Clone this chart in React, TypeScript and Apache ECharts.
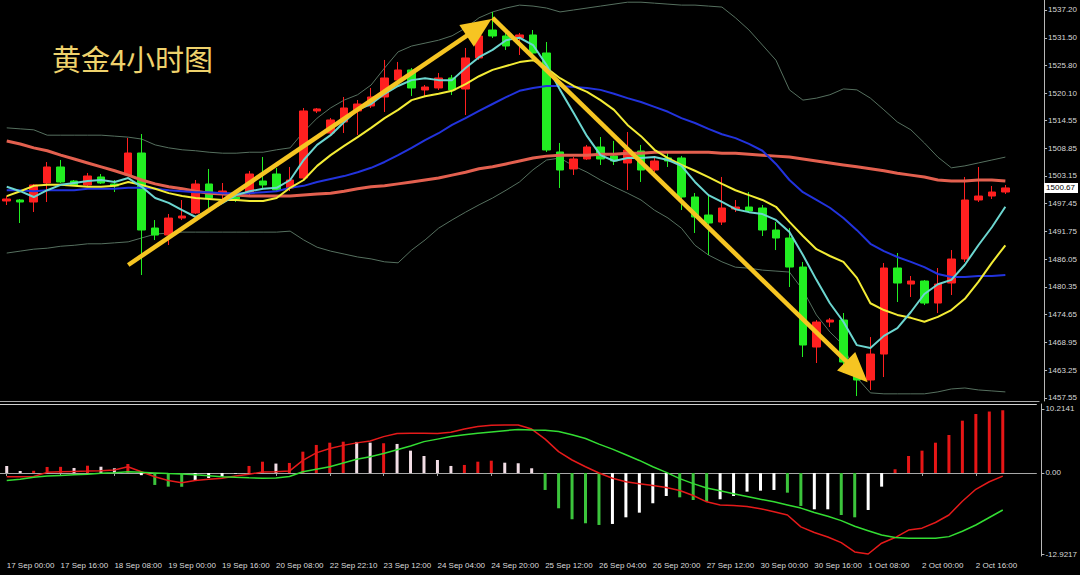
import React, { useEffect, useRef } from 'react';
import * as echarts from 'echarts';

const title = '黄金4小时图';

const timeLabels = ['17 Sep 00:00', '17 Sep 16:00', '18 Sep 08:00', '19 Sep 00:00', '19 Sep 16:00', '20 Sep 08:00', '22 Sep 22:10', '23 Sep 12:00', '24 Sep 04:00', '24 Sep 20:00', '25 Sep 12:00', '26 Sep 04:00', '26 Sep 20:00', '27 Sep 12:00', '30 Sep 00:00', '30 Sep 16:00', '1 Oct 08:00', '2 Oct 00:00', '2 Oct 16:00'];

const priceTicks = [1537.2, 1531.5, 1525.8, 1520.1, 1514.55, 1508.85, 1503.15, 1497.45, 1491.75, 1486.05, 1480.35, 1474.65, 1468.95, 1463.25, 1457.55];
const macdTicks = [10.2141, 0, -12.9217];

const opens = [1497.99, 1498.19, 1497.78, 1501.68, 1504.97, 1502.09, 1501.27, 1502.92, 1501.48, 1503.33,
  1507.84, 1492.44, 1491.00, 1494.49, 1495.52, 1501.48, 1499.42, 1498.81, 1499.63, 1502.09,
  1503.53, 1500.66, 1502.71, 1516.47, 1511.95, 1514.21, 1516.47, 1517.49, 1519.34, 1522.83,
  1524.88, 1520.78, 1521.19, 1523.24, 1520.98, 1527.35, 1533.09, 1531.86, 1531.45, 1532.07,
  1528.37, 1508.05, 1504.56, 1506.61, 1509.07, 1507.23, 1505.79, 1508.25, 1504.35, 1506.82,
  1506.82, 1498.81, 1495.11, 1493.67, 1496.34, 1496.75, 1496.55, 1492.03, 1490.39, 1484.43,
  1468.01, 1473.14, 1473.55, 1462.67, 1461.24, 1466.57, 1484.23, 1480.94, 1481.56, 1477.04,
  1481.15, 1486.08, 1498.19, 1499.01, 1499.83];

const closes = [1498.40, 1497.78, 1501.27, 1504.97, 1501.89, 1501.27, 1503.12, 1501.68, 1501.07, 1507.84,
  1492.03, 1491.00, 1494.49, 1494.90, 1501.48, 1498.60, 1500.04, 1498.40, 1503.53, 1501.27,
  1500.24, 1502.30, 1516.47, 1516.88, 1514.62, 1517.08, 1517.90, 1519.34, 1523.24, 1524.88,
  1521.19, 1521.39, 1523.24, 1520.78, 1527.35, 1531.86, 1531.86, 1529.81, 1532.07, 1528.37,
  1508.46, 1504.35, 1506.61, 1509.07, 1506.61, 1506.20, 1508.46, 1504.35, 1506.20, 1506.20,
  1498.81, 1494.70, 1493.47, 1496.55, 1496.75, 1495.93, 1492.03, 1490.39, 1484.43, 1468.42,
  1473.14, 1473.55, 1464.93, 1461.24, 1466.57, 1484.23, 1481.15, 1481.56, 1477.04, 1480.94,
  1486.08, 1498.19, 1499.01, 1499.83, 1500.67];

const lows = [1497.16, 1493.47, 1495.73, 1497.78, 1501.68, 1501.07, 1501.07, 1501.48, 1499.83, 1503.12,
  1482.79, 1489.98, 1488.95, 1494.08, 1495.32, 1496.55, 1498.40, 1497.78, 1499.22, 1500.66,
  1499.83, 1500.04, 1502.30, 1516.05, 1511.54, 1511.95, 1511.54, 1517.08, 1516.26, 1521.39,
  1519.55, 1519.34, 1520.78, 1519.75, 1515.64, 1526.94, 1531.45, 1528.99, 1527.96, 1527.96,
  1508.05, 1500.66, 1503.33, 1506.41, 1505.38, 1505.38, 1500.24, 1501.89, 1503.94, 1504.97,
  1496.14, 1491.42, 1486.90, 1493.06, 1495.73, 1495.52, 1490.80, 1487.92, 1480.33, 1465.96,
  1464.73, 1472.12, 1462.67, 1457.95, 1459.18, 1461.85, 1477.25, 1478.28, 1476.63, 1474.99,
  1478.69, 1485.46, 1497.78, 1498.40, 1499.42];

const highs = [1499.01, 1498.40, 1501.48, 1505.99, 1506.41, 1502.30, 1503.74, 1503.53, 1502.30, 1510.92,
  1511.74, 1494.08, 1495.32, 1498.19, 1502.30, 1504.56, 1501.68, 1499.63, 1504.15, 1507.02,
  1504.76, 1504.97, 1517.08, 1517.08, 1515.03, 1519.34, 1518.72, 1521.19, 1526.94, 1526.53,
  1525.29, 1521.80, 1524.27, 1523.86, 1529.40, 1533.50, 1536.79, 1532.68, 1532.48, 1533.09,
  1530.63, 1509.90, 1507.02, 1509.49, 1511.12, 1510.31, 1512.15, 1509.49, 1507.02, 1507.84,
  1507.23, 1499.63, 1499.22, 1502.92, 1498.19, 1499.83, 1497.16, 1493.67, 1492.44, 1485.46,
  1473.55, 1473.96, 1474.99, 1464.32, 1470.06, 1485.26, 1487.31, 1482.59, 1481.77, 1484.23,
  1487.92, 1502.92, 1504.97, 1501.07, 1501.27];

const ma5 = [1500.9, 1500.0, 1498.8, 1500.2, 1501.3, 1501.7, 1502.1, 1502.3, 1501.9, 1502.7,
  1500.9, 1498.6, 1497.6, 1496.1, 1494.7, 1496.1, 1497.6, 1499.2, 1500.0, 1500.5,
  1500.7, 1502.3, 1506.4, 1509.5, 1511.5, 1514.2, 1516.7, 1517.9, 1520.0, 1521.6,
  1522.8, 1523.2, 1522.8, 1522.8, 1525.3, 1527.5, 1529.0, 1531.0, 1531.5, 1530.0,
  1525.9, 1520.8, 1516.1, 1511.3, 1507.4, 1506.2, 1506.8, 1506.8, 1507.0, 1506.4,
  1505.2, 1501.9, 1499.2, 1497.8, 1496.3, 1495.7, 1495.3, 1494.1, 1491.6, 1486.9,
  1481.8, 1477.0, 1473.2, 1468.4, 1467.8, 1470.3, 1471.9, 1475.2, 1478.9, 1480.9,
  1481.8, 1484.9, 1488.9, 1492.6, 1496.8];

const ma10 = [1499.0, 1500.0, 1501.1, 1501.3, 1501.3, 1501.1, 1500.9, 1500.9, 1501.1, 1501.9,
  1501.3, 1500.5, 1499.6, 1499.0, 1498.6, 1498.4, 1498.2, 1498.2, 1498.0, 1498.0,
  1498.6, 1500.7, 1502.3, 1505.2, 1507.4, 1509.3, 1511.1, 1513.0, 1515.0, 1516.7,
  1518.7, 1519.5, 1520.0, 1520.6, 1522.0, 1523.6, 1524.9, 1525.7, 1526.5, 1526.9,
  1525.3, 1523.2, 1521.6, 1520.4, 1518.7, 1516.7, 1513.6, 1511.3, 1508.5, 1506.8,
  1505.4, 1504.2, 1502.9, 1501.5, 1500.2, 1499.2, 1498.2, 1496.8, 1493.7, 1490.8,
  1488.1, 1486.7, 1485.5, 1482.2, 1477.0, 1475.6, 1474.6, 1474.0, 1473.2, 1474.2,
  1475.6, 1477.9, 1481.4, 1485.3, 1488.9];

const ma20 = [1500.2, 1500.2, 1500.0, 1500.2, 1500.2, 1500.2, 1500.5, 1500.5, 1500.5, 1500.7,
  1500.7, 1500.5, 1500.2, 1500.0, 1499.8, 1499.8, 1499.6, 1499.6, 1499.6, 1499.8,
  1500.0, 1500.7, 1501.1, 1501.9, 1502.5, 1503.1, 1503.9, 1504.8, 1506.0, 1507.4,
  1508.9, 1510.5, 1511.9, 1513.6, 1515.0, 1516.5, 1517.9, 1519.3, 1520.6, 1521.2,
  1521.6, 1521.6, 1521.4, 1521.2, 1520.8, 1520.0, 1519.1, 1518.3, 1517.3, 1516.3,
  1515.0, 1514.0, 1512.8, 1511.7, 1510.9, 1509.7, 1508.3, 1505.6, 1502.3, 1499.8,
  1498.2, 1496.6, 1494.5, 1492.0, 1489.2, 1487.7, 1486.5, 1485.5, 1484.4, 1483.0,
  1482.4, 1482.4, 1482.6, 1482.6, 1482.8];

const ma60 = [1510.3, 1509.7, 1508.9, 1508.3, 1507.4, 1506.6, 1505.8, 1505.0, 1504.2, 1503.3,
  1502.3, 1501.5, 1500.9, 1500.5, 1500.0, 1499.6, 1499.4, 1499.2, 1499.0, 1499.0,
  1499.0, 1499.0, 1499.2, 1499.4, 1499.6, 1500.0, 1500.5, 1500.9, 1501.1, 1501.5,
  1501.9, 1502.3, 1502.7, 1503.3, 1503.9, 1504.6, 1505.0, 1505.6, 1506.2, 1506.8,
  1507.2, 1507.4, 1507.4, 1507.4, 1507.6, 1507.6, 1507.8, 1507.8, 1508.0, 1508.0,
  1508.0, 1508.0, 1508.0, 1507.8, 1507.8, 1507.6, 1507.4, 1507.2, 1507.0, 1506.6,
  1506.2, 1505.8, 1505.4, 1505.0, 1504.6, 1504.2, 1503.7, 1503.3, 1502.9, 1502.3,
  1502.1, 1502.1, 1502.3, 1502.3, 1502.1];

const bbUpper = [1513.0, 1512.8, 1512.6, 1511.5, 1511.5, 1511.5, 1511.5, 1511.5, 1511.3, 1511.1,
  1510.7, 1509.5, 1508.9, 1508.5, 1508.3, 1508.0, 1507.8, 1507.8, 1508.0, 1508.0,
  1508.5, 1508.9, 1512.2, 1515.0, 1517.1, 1518.7, 1519.8, 1521.8, 1525.3, 1528.6,
  1529.8, 1530.4, 1531.0, 1531.9, 1533.5, 1535.6, 1536.8, 1537.6, 1538.2, 1538.0,
  1537.6, 1536.8, 1537.2, 1537.6, 1538.0, 1538.4, 1538.8, 1538.8, 1538.6, 1538.4,
  1538.2, 1538.2, 1538.0, 1537.8, 1535.6, 1533.1, 1530.0, 1526.9, 1520.8, 1518.7,
  1519.1, 1519.8, 1521.0, 1520.8, 1519.1, 1516.7, 1514.2, 1512.6, 1509.9, 1507.0,
  1504.8, 1505.2, 1505.8, 1506.4, 1507.0];

const bbLower = [1487.3, 1487.7, 1488.1, 1488.3, 1488.7, 1488.9, 1489.2, 1489.2, 1489.4, 1489.6,
  1490.4, 1491.2, 1491.4, 1491.6, 1491.6, 1491.6, 1491.6, 1491.6, 1491.6, 1491.6,
  1491.6, 1491.8, 1490.0, 1488.5, 1487.7, 1487.1, 1486.5, 1486.1, 1485.5, 1485.3,
  1487.9, 1490.0, 1492.4, 1494.1, 1495.7, 1497.2, 1498.6, 1500.2, 1501.9, 1504.4,
  1506.4, 1506.8, 1505.2, 1503.9, 1502.3, 1500.9, 1499.6, 1498.2, 1496.1, 1494.5,
  1492.4, 1488.9, 1486.9, 1485.5, 1484.4, 1484.2, 1483.8, 1483.6, 1483.4, 1479.7,
  1474.6, 1471.1, 1468.4, 1461.7, 1458.6, 1458.4, 1458.4, 1458.4, 1458.4, 1458.8,
  1459.4, 1459.6, 1459.2, 1459.0, 1458.8];

const macdHist = [1.12, 0.32, 0.35, 0.96, 0.98, 0.8, 1.16, 1.0, 0.75, 1.44,
  -0.35, -1.91, -2.18, -2.2, -1.12, -0.8, -0.59, -0.1, 1.12, 1.8,
  1.5, 1.6, 3.4, 4.47, 4.83, 4.99, 4.95, 4.83, 4.74, 4.63,
  3.56, 2.71, 2.07, 1.12, 1.28, 1.8, 1.96, 1.64, 1.55, 0.75,
  -2.71, -5.63, -7.38, -8.02, -8.29, -8.13, -7.07, -6.33, -4.83, -3.67,
  -3.88, -4.31, -4.58, -4.19, -3.67, -2.98, -2.82, -2.71, -3.14, -5.26,
  -5.79, -5.79, -6.7, -7.07, -5.9, -2.18, 0.59, 2.71, 3.56, 4.83,
  6.06, 8.34, 9.41, 9.8, 10.0];

// R: up & rising, P: up & easing, G: down & falling, W: down & recovering
const histState = ['P', 'P', 'R', 'R', 'R', 'P', 'R', 'P', 'P', 'R',
  'W', 'G', 'G', 'G', 'W', 'W', 'W', 'W', 'R', 'R',
  'P', 'R', 'R', 'R', 'R', 'R', 'P', 'P', 'R', 'P',
  'P', 'P', 'P', 'P', 'R', 'R', 'R', 'P', 'P', 'P',
  'G', 'G', 'G', 'G', 'G', 'W', 'W', 'W', 'W', 'W',
  'G', 'G', 'G', 'W', 'W', 'W', 'W', 'W', 'G', 'G',
  'W', 'W', 'G', 'G', 'W', 'W', 'R', 'R', 'R', 'R',
  'R', 'R', 'R', 'R', 'R'];

const macdDif = [-0.59, -0.59, -0.55, 0.1, 0.2, 0.25, 0.3, 0.37, 0.48, 1.0,
  0.2, -0.6, -1.2, -1.55, -1.2, -1.0, -0.85, -0.5, -0.2, 0.15,
  0.21, 0.3, 2.0, 3.2, 3.9, 4.4, 4.8, 5.1, 5.8, 6.3,
  6.35, 6.35, 6.3, 6.5, 7.0, 7.4, 7.6, 7.65, 7.65, 7.0,
  5.4, 3.4, 2.07, 1.0, 0.0, -0.85, -1.4, -1.7, -2.0, -2.3,
  -2.8, -3.6, -4.6, -5.1, -5.2, -5.35, -5.7, -6.2, -6.7, -8.6,
  -9.5, -10.2, -11.1, -12.6, -12.9217, -11.2, -10.3, -9.1, -8.8, -7.9,
  -6.7, -4.5, -2.6, -1.4, -0.5];

const macdDea = [-1.2, -1.0, -0.7, -0.5, -0.4, -0.3, -0.2, -0.05, 0.05, 0.2,
  0.1, 0.0, -0.1, -0.15, -0.3, -0.45, -0.6, -0.7, -0.78, -0.85,
  -0.8, -0.55, 0.2, 0.6, 1.0, 1.6, 2.2, 2.6, 3.1, 3.7,
  4.3, 5.0, 5.4, 5.8, 6.1, 6.35, 6.55, 6.75, 6.95, 6.85,
  6.8, 6.6, 6.1, 5.5, 4.6, 3.8, 2.9, 2.0, 1.0, 0.1,
  -0.9, -1.7, -2.4, -2.85, -3.3, -3.75, -4.2, -4.6, -5.1, -5.6,
  -6.3, -6.9, -7.6, -8.5, -9.2, -9.9, -10.3, -10.4, -10.4, -10.4,
  -10.15, -9.3, -8.3, -7.1, -5.9];

// trend arrows: [bar index, price] from -> to
const arrowUp = [[9, 1484.85], [35, 1533.61]];
const arrowDown = [[36, 1535.56], [63, 1462.94]];

const SLOTS = 77; // bars plus the empty right margin of the chart

export default function App() {
  const ref = useRef<HTMLDivElement>(null);

  useEffect(() => {
    if (!ref.current) return;
    const chart = echarts.init(ref.current, undefined, { renderer: 'svg' });
    const cats = Array.from({ length: SLOTS }, (_, i) => String(i));
    const tickShow = (i: number) => i % 4 === 0 && i / 4 < timeLabels.length;
    const stateColor: Record<string, string> = { R: '#e61616', P: '#f2dde5', G: '#3cc43c', W: '#ffffff' };
    const lastClose = closes[closes.length - 1];
    const font = '"Liberation Sans", Arial, sans-serif';

    const mkLine = (data: number[], color: string, width: number, z = 3) => ({
      type: 'line', xAxisIndex: 0, yAxisIndex: 0, data, symbol: 'none', silent: true, z,
      lineStyle: { color, width }, emphasis: { disabled: true },
    });

    const option: any = {
      animation: false,
      backgroundColor: '#000000',
      textStyle: { fontFamily: font },
      grid: [
        { left: 0, top: 0, width: 1040, height: 401 },
        { left: 0, top: 404, width: 1040, height: 152 },
      ],
      xAxis: [
        {
          type: 'category', gridIndex: 0, data: cats, boundaryGap: true,
          axisLine: { show: true, lineStyle: { color: '#a8a8a8', width: 1 } },
          axisTick: { show: false }, axisLabel: { show: false }, splitLine: { show: false },
        },
        {
          type: 'category', gridIndex: 1, data: cats, boundaryGap: true, position: 'bottom',
          axisLine: { show: true, lineStyle: { color: '#a8a8a8', width: 1 } },
          axisTick: { show: true, interval: tickShow, alignWithLabel: true, length: 3, lineStyle: { color: '#a8a8a8' } },
          axisLabel: {
            interval: tickShow, align: 'left', margin: 5, color: '#dcdcdc', fontSize: 8, fontFamily: font,
            formatter: (_v: string, i: number) => timeLabels[i / 4] ?? '',
          },
          splitLine: { show: false },
        },
        {
          type: 'category', gridIndex: 1, data: cats, boundaryGap: true, position: 'top',
          axisLine: { show: true, lineStyle: { color: '#d0d0d0', width: 1 } },
          axisTick: { show: false }, axisLabel: { show: false }, splitLine: { show: false },
        },
      ],
      yAxis: [
        {
          type: 'value', gridIndex: 0, position: 'right', offset: 5, min: 1456.93, max: 1539.25,
          splitLine: { show: false },
          axisLine: { show: true, lineStyle: { color: '#b8b8b8' } },
          axisTick: { show: true, length: 3, customValues: priceTicks, lineStyle: { color: '#b8b8b8' } },
          axisLabel: {
            customValues: priceTicks, color: '#d8d8d8', fontSize: 8, margin: 4, fontFamily: font,
            formatter: (v: number) => v.toFixed(2),
          },
        },
        {
          type: 'value', gridIndex: 1, position: 'right', offset: 5, min: -13.24, max: 11.0,
          splitLine: { show: false },
          axisLine: { show: true, lineStyle: { color: '#b8b8b8' } },
          axisTick: { show: true, length: 3, customValues: macdTicks, lineStyle: { color: '#b8b8b8' } },
          axisLabel: {
            customValues: macdTicks, color: '#d8d8d8', fontSize: 8, margin: 4, fontFamily: font,
            formatter: (v: number) => (v === 0 ? '0.00' : String(v)),
          },
        },
      ],
      graphic: [
        {
          type: 'text', left: 52, top: 43, z: 100, silent: true,
          style: { text: title, fill: '#efd26c', fontSize: 29, fontFamily: '"Noto Sans CJK SC", sans-serif' },
        },
      ],
      series: [
        {
          type: 'candlestick', xAxisIndex: 0, yAxisIndex: 0, z: 2, silent: true,
          barWidth: 8,
          data: opens.map((o, i) => [o, closes[i], lows[i], highs[i]]),
          itemStyle: { color: '#ff2020', color0: '#22ee22', borderColor: '#ff2020', borderColor0: '#22ee22', borderWidth: 1 },
          emphasis: { disabled: true },
          markLine: {
            silent: true, symbol: ['none', 'none'], animation: false,
            lineStyle: { color: 'rgba(0,0,0,0)', width: 1, type: 'solid' },
            label: {
              show: true, position: 'end', distance: 5, color: '#000000', backgroundColor: '#ffffff',
              fontSize: 8, padding: [1, 3, 1, 2], fontFamily: font, opacity: 1,
              formatter: (p: any) => Number(p.value).toFixed(2),
            },
            emphasis: { disabled: true },
            data: [{ yAxis: lastClose }],
          },
        },
        mkLine(bbUpper, '#56705f', 1, 2),
        mkLine(bbLower, '#56705f', 1, 2),
        mkLine(ma60, '#e3604f', 3),
        mkLine(ma20, '#2233dd', 2),
        mkLine(ma10, '#f3ec35', 2),
        mkLine(ma5, '#6cd6d0', 2),
        {
          type: 'line', xAxisIndex: 0, yAxisIndex: 0, data: [], z: 20, silent: true,
          markLine: {
            silent: true, animation: false,
            symbol: ['none', 'triangle'], symbolSize: [26, 30],
            lineStyle: { color: '#f6c522', width: 4.5, type: 'solid' },
            itemStyle: { color: '#f6c522' },
            label: { show: false },
            emphasis: { disabled: true },
            data: [
              [{ coord: arrowUp[0] }, { coord: arrowUp[1] }],
              [{ coord: arrowDown[0] }, { coord: arrowDown[1] }],
            ],
          },
        },
        {
          type: 'bar', xAxisIndex: 1, yAxisIndex: 1, barWidth: 3, silent: true, z: 2,
          data: macdHist.map((v, i) => ({ value: v, itemStyle: { color: stateColor[histState[i]] } })),
          emphasis: { disabled: true },
        },
        {
          type: 'line', xAxisIndex: 1, yAxisIndex: 1, data: macdDif, symbol: 'none', silent: true, z: 3,
          lineStyle: { color: '#e51a1a', width: 1.5 }, emphasis: { disabled: true },
        },
        {
          type: 'line', xAxisIndex: 1, yAxisIndex: 1, data: macdDea, symbol: 'none', silent: true, z: 3,
          lineStyle: { color: '#33dd33', width: 1.5 }, emphasis: { disabled: true },
        },
      ],
    };

    chart.setOption(option);
    return () => chart.dispose();
  }, []);

  return (
    <div
      ref={ref}
      style={{ position: 'fixed', left: 0, top: 0, width: 1080, height: 575, background: '#000000' }}
    />
  );
}
